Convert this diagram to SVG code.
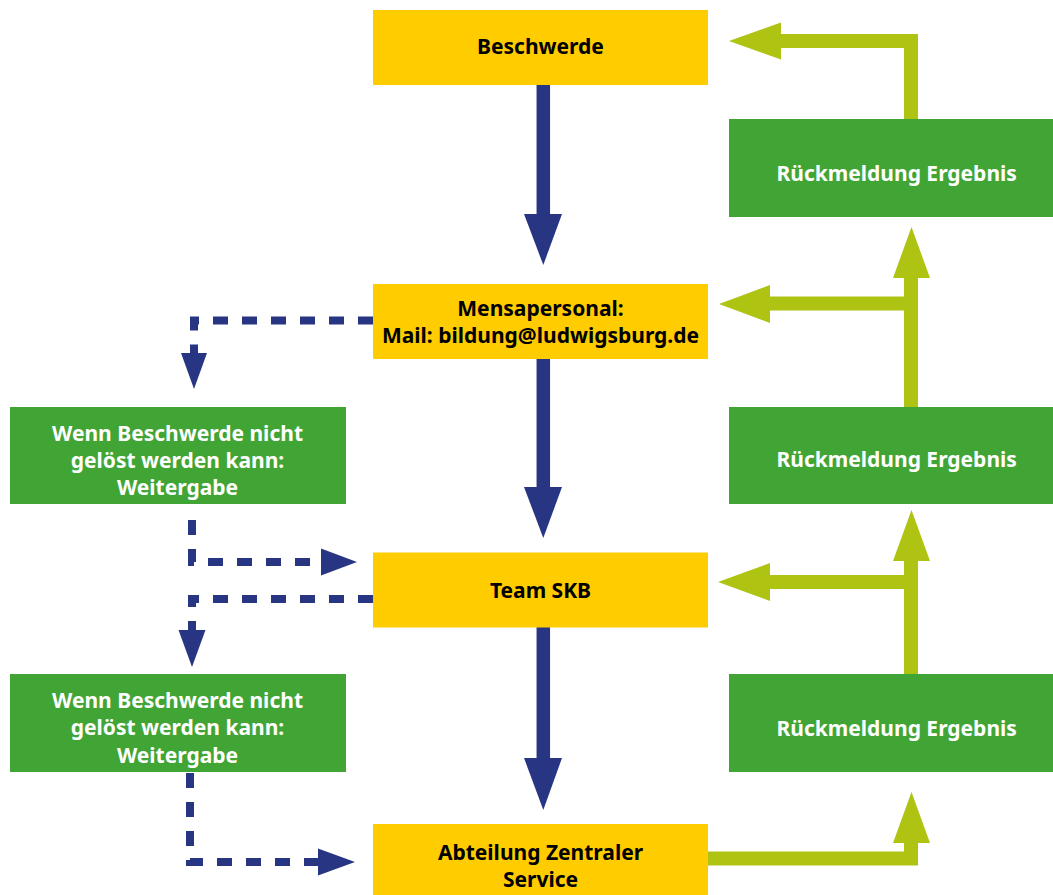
<svg xmlns="http://www.w3.org/2000/svg" width="1053" height="895" viewBox="0 0 1053 895">
<style>
.y{fill:#FFCC00}
.g{fill:#41A535}
.t{font-family:"Noto Sans","Open Sans","DejaVu Sans",sans-serif;font-weight:bold;font-size:21px;text-anchor:middle}
.tk{fill:#000}
.tw{fill:#fff}
.bs{fill:none;stroke:#283583;stroke-width:13.5}
.bd{fill:none;stroke:#283583;stroke-width:8;stroke-dasharray:15 14}
.bh{fill:#283583}
.ls{fill:none;stroke:#AFC313;stroke-width:14;stroke-linejoin:miter}
.lh{fill:#AFC313}
</style>
<rect width="1053" height="895" fill="#fff"/>
<g id="connectors">
  <path class="bs" d="M543.3,85V215"/>
  <polygon class="bh" points="524,214 562,214 543.3,265"/>
  <path class="bs" d="M543.3,359V488"/>
  <polygon class="bh" points="524,487 562,487 543.3,538"/>
  <path class="bs" d="M543.3,627V759"/>
  <polygon class="bh" points="524,758 562,758 543.3,810"/>
  <path class="bd" d="M373,320.5H194V354"/>
  <polygon class="bh" points="181,353 207,353 194,389"/>
  <path class="bd" d="M192,520V562H322"/>
  <polygon class="bh" points="321,548.5 321,575.5 357,562"/>
  <path class="bd" d="M373,599H192V631"/>
  <polygon class="bh" points="178.5,630 205.5,630 192,667"/>
  <path class="bd" d="M190,773V862H319"/>
  <polygon class="bh" points="318,848.5 318,875.5 355,862"/>
  <path class="ls" d="M911,119V41H780"/>
  <polygon class="lh" points="781,22.5 781,59.5 729,41"/>
  <path class="ls" d="M911,407V277"/>
  <polygon class="lh" points="893,278 930,278 911.5,227"/>
  <path class="ls" d="M911,303.5H769"/>
  <polygon class="lh" points="770,285 770,323 719,304"/>
  <path class="ls" d="M911,674V560"/>
  <polygon class="lh" points="893,561 930,561 911.5,510"/>
  <path class="ls" d="M911,582H769"/>
  <polygon class="lh" points="770,563 770,601 718,582"/>
  <path class="ls" d="M708,858.5H911V842"/>
  <polygon class="lh" points="893,843 930,843 911.5,792"/>
</g>
<g id="beschwerde">
  <rect class="y" x="373" y="10" width="335" height="75"/>
  <text class="t tk" x="540.5" y="54.3">Beschwerde</text>
</g>
<g id="mensapersonal">
  <rect class="y" x="373" y="284" width="335" height="75"/>
  <text class="t tk" x="540.5" y="315.5">Mensapersonal:</text>
  <text class="t tk" x="540.5" y="342.5">Mail: bildung@ludwigsburg.de</text>
</g>
<g id="team-skb">
  <rect class="y" x="373" y="552.5" width="335" height="75"/>
  <text class="t tk" x="540.5" y="597.7">Team SKB</text>
</g>
<g id="abteilung">
  <rect class="y" x="373" y="824" width="335" height="75"/>
  <text class="t tk" x="540.5" y="860">Abteilung Zentraler</text>
  <text class="t tk" x="540.5" y="887">Service</text>
</g>
<g id="weitergabe-1">
  <rect class="g" x="10" y="407" width="336" height="97"/>
  <text class="t tw" x="177.5" y="441">Wenn Beschwerde nicht</text>
  <text class="t tw" x="177.5" y="467.5">gelöst werden kann:</text>
  <text class="t tw" x="177.5" y="494.5">Weitergabe</text>
</g>
<g id="weitergabe-2">
  <rect class="g" x="10" y="674" width="336" height="98"/>
  <text class="t tw" x="177.5" y="707.7">Wenn Beschwerde nicht</text>
  <text class="t tw" x="177.5" y="735">gelöst werden kann:</text>
  <text class="t tw" x="177.5" y="762.7">Weitergabe</text>
</g>
<g id="rueckmeldung-1">
  <rect class="g" x="729" y="119" width="330" height="98"/>
  <text class="t tw" x="896.7" y="181">Rückmeldung Ergebnis</text>
</g>
<g id="rueckmeldung-2">
  <rect class="g" x="729" y="407" width="330" height="97"/>
  <text class="t tw" x="896.7" y="467">Rückmeldung Ergebnis</text>
</g>
<g id="rueckmeldung-3">
  <rect class="g" x="729" y="674" width="330" height="98"/>
  <text class="t tw" x="896.7" y="735.7">Rückmeldung Ergebnis</text>
</g>
</svg>
